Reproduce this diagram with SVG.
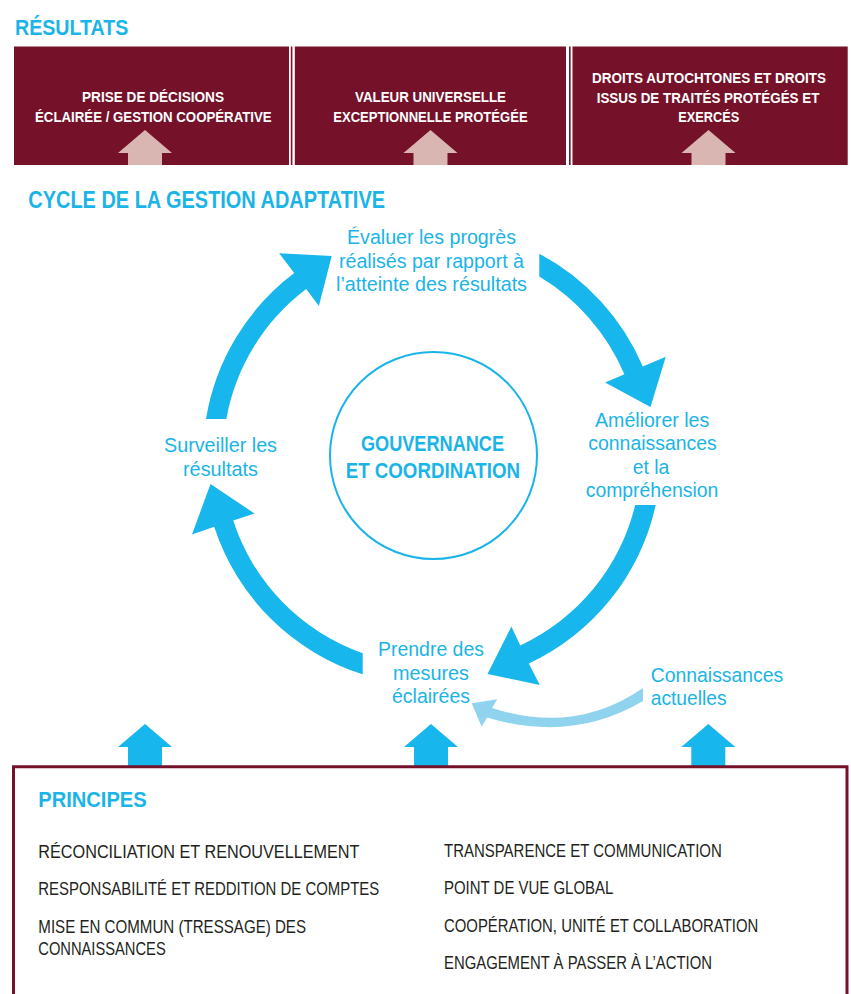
<svg xmlns="http://www.w3.org/2000/svg" width="851" height="994" viewBox="0 0 851 994">
<style>
text{font-family:"Liberation Sans",Arial,sans-serif}
.h{font-weight:bold;fill:#1ab4e8}
.bx{font-weight:bold;font-size:14px;fill:#ffffff}
.lbl{font-size:19.3px;fill:#1ab4e8}
.ctr{font-weight:bold;font-size:22px;fill:#1ab4e8}
.pr{font-size:17.5px;fill:#231f20}
.box{fill:#76112a}
.sep{fill:#76112a}
.cyc{fill:#17b6ec}
.light{fill:#8fd3ef}
.pink{fill:#d9b6b2}
</style>
<defs>
<path id="upPink" d="M0,0 L27,23 L17,23 L17,35 L-17,35 L-17,23 L-27,23 Z"/>
<path id="upBlue" d="M0,0 L27,23 L17,23 L17,42 L-17,42 L-17,23 L-27,23 Z"/>
</defs>
<rect width="851" height="994" fill="#ffffff"/>

<g id="titre-resultats">
<text class="h" x="15" y="35" font-size="22" textLength="113.3" lengthAdjust="spacingAndGlyphs">RÉSULTATS</text>
</g>

<g id="resultat-1">
<rect class="box" x="14" y="46.5" width="275" height="118.5"/>
<text class="bx" x="82" y="102" textLength="142" lengthAdjust="spacingAndGlyphs">PRISE DE DÉCISIONS</text>
<text class="bx" x="35" y="121.5" textLength="236.7" lengthAdjust="spacingAndGlyphs">ÉCLAIRÉE / GESTION COOPÉRATIVE</text>
</g>
<rect class="sep" x="290.8" y="46.5" width="1.6" height="118.5"/>
<g id="resultat-2">
<rect class="box" x="294.8" y="46.5" width="271.2" height="118.5"/>
<text class="bx" x="355" y="102" textLength="151" lengthAdjust="spacingAndGlyphs">VALEUR UNIVERSELLE</text>
<text class="bx" x="333.3" y="121.5" textLength="194.3" lengthAdjust="spacingAndGlyphs">EXCEPTIONNELLE PROTÉGÉE</text>
</g>
<rect class="sep" x="569" y="46.5" width="1.6" height="118.5"/>
<g id="resultat-3">
<rect class="box" x="572.5" y="46.5" width="275.2" height="118.5"/>
<text class="bx" x="592" y="83" textLength="234" lengthAdjust="spacingAndGlyphs">DROITS AUTOCHTONES ET DROITS</text>
<text class="bx" x="596.7" y="102.5" textLength="222.7" lengthAdjust="spacingAndGlyphs">ISSUS DE TRAITÉS PROTÉGÉS ET</text>
<text class="bx" x="678.3" y="122" textLength="61" lengthAdjust="spacingAndGlyphs">EXERCÉS</text>
</g>

<g id="titre-cycle">
<text class="h" x="28.3" y="208.3" font-size="23" textLength="356.7" lengthAdjust="spacingAndGlyphs">CYCLE DE LA GESTION ADAPTATIVE</text>
</g>

<g id="connecteurs">
<use href="#upPink" class="pink" x="145" y="130"/>
<use href="#upPink" class="pink" x="430.5" y="130"/>
<use href="#upPink" class="pink" x="708.5" y="130"/>
<path class="cyc" d="M206,419 A229,229 0 0 1 294.2,273.1 L279.1,253.2 L331.7,256 L318.9,305.9 L306.2,289.1 A209,209 0 0 0 226.3,419 Z"/>
<path class="cyc" d="M539.3,253.7 A229,229 0 0 1 642.8,366.5 L665.8,356.8 L650.5,407 L605.1,382.5 L624.4,374.3 A209,209 0 0 0 539.3,276.6 Z"/>
<path class="cyc" d="M655.7,505 A229,229 0 0 1 528.8,663.5 L539.8,685 L487.5,674 L511.4,626.4 L520.3,645.4 A209,209 0 0 0 635.2,505 Z"/>
<path class="cyc" d="M362.7,674.3 A229,229 0 0 1 214.2,526.8 L192,534.5 L210.5,484 L254.5,513.5 L233.2,520.6 A209,209 0 0 0 362.7,653.2 Z"/>
<path class="light" d="M643,688 L643,701 Q572,743 487,717.5 L481.7,726.7 L471.7,703.3 L497.3,699.3 L492,708 Q575,735 643,688 Z"/>
<use href="#upBlue" class="cyc" x="145" y="724"/>
<use href="#upBlue" class="cyc" x="431" y="724"/>
<use href="#upBlue" class="cyc" x="708.3" y="724"/>
</g>

<g id="gouvernance">
<circle cx="433.5" cy="455.5" r="103.5" fill="none" stroke="#1ab4e8" stroke-width="2"/>
<text class="ctr" x="361" y="451" textLength="143" lengthAdjust="spacingAndGlyphs">GOUVERNANCE</text>
<text class="ctr" x="345.7" y="478.3" textLength="174.3" lengthAdjust="spacingAndGlyphs">ET COORDINATION</text>
</g>

<g id="evaluer">
<text class="lbl" x="347" y="244" textLength="169" lengthAdjust="spacingAndGlyphs">Évaluer les progrès</text>
<text class="lbl" x="339" y="267.5" textLength="185" lengthAdjust="spacingAndGlyphs">réalisés par rapport à</text>
<text class="lbl" x="336" y="291" textLength="191" lengthAdjust="spacingAndGlyphs">l’atteinte des résultats</text>
</g>
<g id="ameliorer">
<text class="lbl" x="595" y="426.7" textLength="114.3" lengthAdjust="spacingAndGlyphs">Améliorer les</text>
<text class="lbl" x="588.3" y="450" textLength="128.4" lengthAdjust="spacingAndGlyphs">connaissances</text>
<text class="lbl" x="632.7" y="474" textLength="36.6" lengthAdjust="spacingAndGlyphs">et la</text>
<text class="lbl" x="585.7" y="497.3" textLength="132.6" lengthAdjust="spacingAndGlyphs">compréhension</text>
</g>
<g id="prendre">
<text class="lbl" x="378" y="656" textLength="106" lengthAdjust="spacingAndGlyphs">Prendre des</text>
<text class="lbl" x="393" y="679.5" textLength="76" lengthAdjust="spacingAndGlyphs">mesures</text>
<text class="lbl" x="392" y="703" textLength="78" lengthAdjust="spacingAndGlyphs">éclairées</text>
</g>
<g id="surveiller">
<text class="lbl" x="164" y="452" textLength="113" lengthAdjust="spacingAndGlyphs">Surveiller les</text>
<text class="lbl" x="183" y="476" textLength="75" lengthAdjust="spacingAndGlyphs">résultats</text>
</g>
<g id="connaissances-actuelles">
<text class="lbl" x="650.7" y="682.3" textLength="132.6" lengthAdjust="spacingAndGlyphs">Connaissances</text>
<text class="lbl" x="650.7" y="705" textLength="76" lengthAdjust="spacingAndGlyphs">actuelles</text>
</g>

<g id="principes">
<path d="M13.5,996 L13.5,766.7 L847,766.7 L847,996" fill="none" stroke="#76112a" stroke-width="3"/>
<text class="h" x="38.3" y="807" font-size="22" textLength="108.4" lengthAdjust="spacingAndGlyphs">PRINCIPES</text>
<text class="pr" x="38.3" y="858" textLength="321.2" lengthAdjust="spacingAndGlyphs">RÉCONCILIATION ET RENOUVELLEMENT</text>
<text class="pr" x="38.3" y="895" textLength="341" lengthAdjust="spacingAndGlyphs">RESPONSABILITÉ ET REDDITION DE COMPTES</text>
<text class="pr" x="38.3" y="933.3" textLength="267.7" lengthAdjust="spacingAndGlyphs">MISE EN COMMUN (TRESSAGE) DES</text>
<text class="pr" x="38.3" y="955" textLength="127.4" lengthAdjust="spacingAndGlyphs">CONNAISSANCES</text>
<text class="pr" x="444" y="857" textLength="277.8" lengthAdjust="spacingAndGlyphs">TRANSPARENCE ET COMMUNICATION</text>
<text class="pr" x="444" y="893.5" textLength="169.3" lengthAdjust="spacingAndGlyphs">POINT DE VUE GLOBAL</text>
<text class="pr" x="444" y="931.5" textLength="314.2" lengthAdjust="spacingAndGlyphs">COOPÉRATION, UNITÉ ET COLLABORATION</text>
<text class="pr" x="444" y="969" textLength="268" lengthAdjust="spacingAndGlyphs">ENGAGEMENT À PASSER À L’ACTION</text>
</g>
</svg>
